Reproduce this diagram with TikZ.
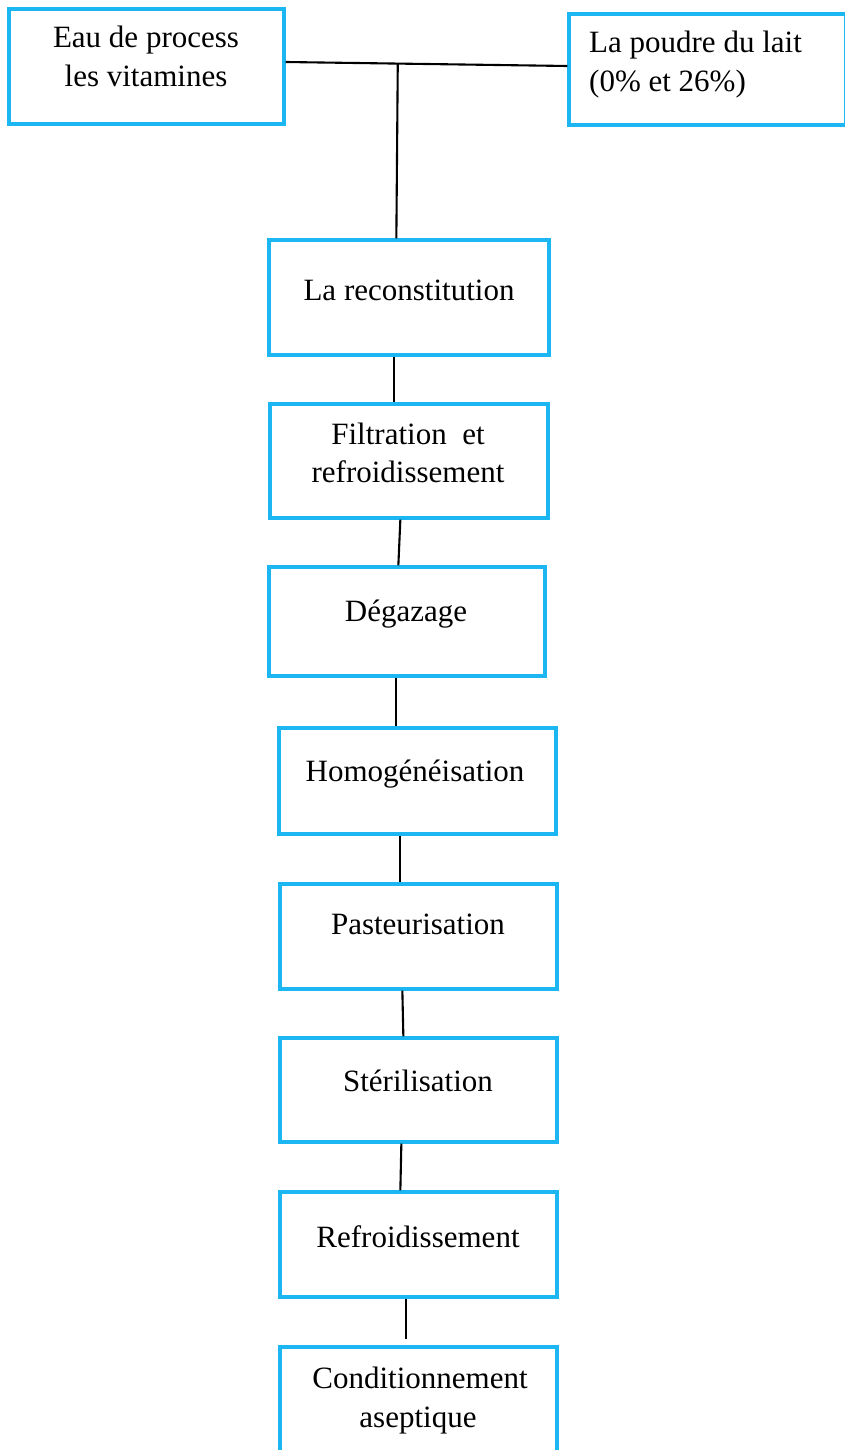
\documentclass[tikz,border=0pt]{standalone}
\usepackage{fontspec}
\setmainfont{Liberation Serif}
\usetikzlibrary{calc}
\definecolor{boxblue}{HTML}{1CB6F2}
\tikzset{
  box/.style={draw=boxblue, line width=3.3pt, inner sep=0pt},
  lbl/.style={font=\fontsize{31}{38}\selectfont, inner sep=0pt, anchor=base},
  conn/.style={draw=black, line width=2.1pt}
}
\newcommand{\mkbox}[5]{%
  \node[box, minimum width=#4-#2, minimum height=#5-#3] (#1) at ({(#2+#4)/2},{-(#3+#5)/2}) {};}
\begin{document}
\begin{tikzpicture}[x=1pt,y=1pt]
\useasboundingbox (0,0) rectangle (844,-1450);
\mkbox{b1}{9}{9}{284}{124}
\mkbox{b2}{569}{14}{846}{125}
\mkbox{b3}{269}{240}{549}{355}
\mkbox{b4}{270}{404}{548}{518}
\mkbox{b5}{269}{567}{545}{676}
\mkbox{b6}{279}{728}{556}{834}
\mkbox{b7}{280}{884}{557}{989}
\mkbox{b8}{280}{1038}{557}{1142}
\mkbox{b9}{280}{1192}{557}{1297}
\mkbox{b10}{280}{1347}{557}{1460}
% texts
\node[lbl] (t1a) at (146,-48) {Eau de process};
\node[lbl] (t1b) at (146,-87) {les vitamines};
\node[lbl, anchor=base west] (t2a) at (589,-53) {La poudre du lait};
\node[lbl, anchor=base west] (t2b) at (589,-92) {(0\% et 26\%)};
\node[lbl] (t3) at (409,-300) {La reconstitution};
\node[lbl] (t4a) at (408,-444) {Filtration\ \ et};
\node[lbl] (t4b) at (408,-482) {refroidissement};
\node[lbl] (t5) at (406,-621) {Dégazage};
\node[lbl] (t6) at (415,-781) {Homogénéisation};
\node[lbl] (t7) at (418,-934) {Pasteurisation};
\node[lbl] (t8) at (418,-1091) {Stérilisation};
\node[lbl] (t9) at (418,-1247) {Refroidissement};
\node[lbl] (t10a) at (420,-1388) {Conditionnement};
\node[lbl] (t10b) at (418,-1427) {aseptique};
% connectors
\coordinate (hl) at ($(b1.east)+(0,4.5)$);
\coordinate (hr) at ($(b2.west)+(0,3.5)$);
\coordinate (j) at ($(hl)!0.398!(hr)$);
\draw[conn] (hl) -- (hr);
\draw[conn] (j) -- ($(b3.north west)+(129,0)$);
\draw[conn] ($(b3.south west)+(127,0)$) -- ($(b4.north west)+(126,0)$);
\draw[conn] ($(b4.south west)+(132,0)$) -- ($(b5.north west)+(131,0)$);
\draw[conn] ($(b5.south west)+(129,0)$) -- ($(b6.north west)+(119,0)$);
\draw[conn] ($(b6.south west)+(123,0)$) -- ($(b7.north west)+(122,0)$);
\draw[conn] ($(b7.south west)+(124,0)$) -- ($(b8.north west)+(125,0)$);
\draw[conn] ($(b8.south west)+(123,0)$) -- ($(b9.north west)+(122,0)$);
\draw[conn] ($(b9.south west)+(128,0)$) -- ($(b10.north west)+(128,6)$);
\end{tikzpicture}
\end{document}
